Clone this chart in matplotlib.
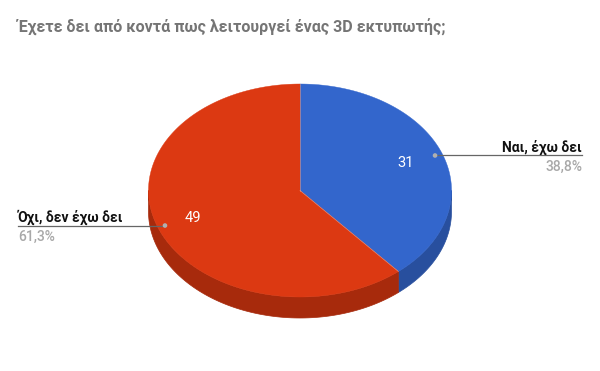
import numpy as np
import matplotlib
matplotlib.use("Agg")
import matplotlib.pyplot as plt
from matplotlib.patches import Polygon, Circle
from decimal import Decimal, ROUND_HALF_UP

# ---- data ----
title = "Έχετε δει από κοντά πως λειτουργεί ένας 3D εκτυπωτής;"
categories = ["Ναι, έχω δει", "Όχι, δεν έχω δει"]
values = [31, 49]
top_colors = ["#3366cc", "#dc3912"]
side_colors = ["#284f9e", "#a72a0c"]

plt.rcParams['font.family'] = ['Roboto', 'DejaVu Sans']

fig = plt.figure(figsize=(6, 3.71), dpi=100)
ax = fig.add_axes([0, 0, 1, 1])
ax.set_xlim(0, 600)
ax.set_ylim(371, 0)
ax.axis('off')

cx, cy, rx, ry, depth = 300, 190.5, 151.5, 106.5, 21

total = sum(values)
fracs = [v / total for v in values]
bounds = np.concatenate([[0], np.cumsum(fracs)]) * 2 * np.pi  # clockwise from top


def pt(t, r=1.0, dy=0.0):
    return cx + rx * r * np.sin(t), cy - ry * r * np.cos(t) + dy


# side walls (visible front: t in [pi/2, 3pi/2])
for i in range(len(values)):
    a1 = max(bounds[i], np.pi / 2)
    a2 = min(bounds[i + 1], 3 * np.pi / 2)
    if a2 <= a1:
        continue
    t = np.linspace(a1, a2, 120)
    xs, ys = pt(t)
    xb, yb = pt(t[::-1], dy=depth)
    poly = np.column_stack([np.concatenate([xs, xb]), np.concatenate([ys, yb])])
    ax.add_patch(Polygon(poly, closed=True, facecolor=side_colors[i],
                         edgecolor=side_colors[i], lw=0.5, zorder=1))

# top faces
for i in range(len(values)):
    t = np.linspace(bounds[i], bounds[i + 1], 300)
    xs, ys = pt(t)
    poly = np.column_stack([np.concatenate([[cx], xs]), np.concatenate([[cy], ys])])
    ax.add_patch(Polygon(poly, closed=True, facecolor=top_colors[i],
                         edgecolor=top_colors[i], lw=0.3, zorder=2))
# thin light seam between slices
for b in bounds[:-1]:
    x1, y1 = pt(b)
    ax.plot([cx, x1], [cy, y1], color="#f0b0a0", lw=0.5, alpha=0.6, zorder=3)


def pct(v):
    d = (Decimal(v) * 100 / Decimal(total)).quantize(Decimal("0.1"), rounding=ROUND_HALF_UP)
    return str(d).replace(".", ",") + "%"


for i in range(len(values)):
    mid = (bounds[i] + bounds[i + 1]) / 2
    lx, ly = pt(mid, 0.75)
    ax.text(lx - 1, ly, str(values[i]), color="white", fontsize=10.5,
            ha="center", va="center", zorder=4)
    dx, dy_ = pt(mid, 0.95)
    ax.add_patch(Circle((dx, dy_), 1.6, color="#b0b0b0", zorder=4))
    right = np.sin(mid) > 0
    if right:
        x_end = 582
        ax.plot([dx, x_end], [dy_, dy_], color="#666666", lw=0.9, zorder=3)
        ax.text(x_end, dy_ - 4, categories[i], ha="right", va="baseline",
                fontsize=10, fontweight="bold", color="#111111")
        ax.text(x_end, dy_ + 15, pct(values[i]), ha="right", va="baseline",
                fontsize=10, fontweight=500, color="#a8a8a8")
    else:
        x_end = 18
        ax.plot([x_end, dx], [dy_, dy_], color="#666666", lw=0.9, zorder=3)
        ax.text(x_end, dy_ - 4, categories[i], ha="left", va="baseline",
                fontsize=10, fontweight="bold", color="#111111")
        ax.text(x_end, dy_ + 15, pct(values[i]), ha="left", va="baseline",
                fontsize=10, fontweight=500, color="#a8a8a8")

ax.text(18, 33, title, ha="left", va="baseline", fontsize=11.5,
        fontweight="bold", color="#757575")

fig.savefig("out.png", dpi=100)
